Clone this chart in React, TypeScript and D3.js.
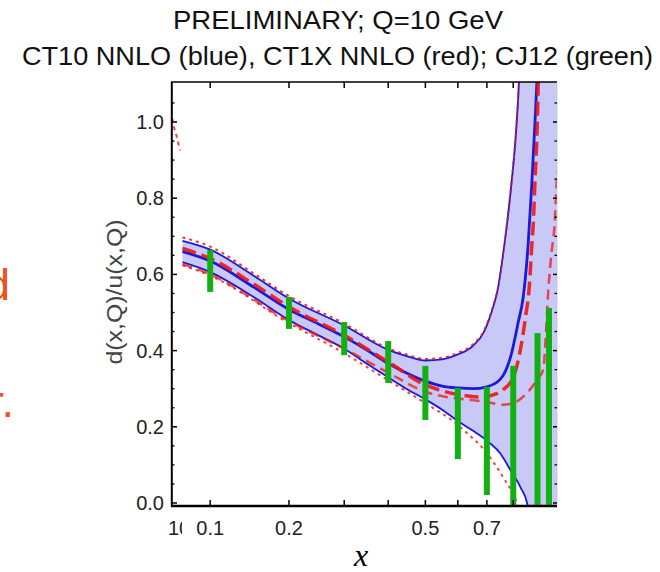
import React from 'react';
import * as d3 from 'd3';

// CT10 NNLO (blue) band
const ct10CentralX = [0.075, 0.1, 0.15, 0.2, 0.25, 0.3, 0.35, 0.4, 0.45, 0.5, 0.55, 0.6, 0.65, 0.7, 0.75, 0.79, 0.82, 0.84, 0.86, 0.875, 0.89, 0.9, 0.92];
const ct10Central = [0.66, 0.635, 0.566, 0.508, 0.47, 0.436, 0.401, 0.366, 0.34, 0.32, 0.307, 0.302, 0.3, 0.305, 0.325, 0.385, 0.475, 0.54, 0.675, 0.83, 1.01, 1.14, 1.5];
const ct10UpperX = [0.075, 0.1, 0.15, 0.2, 0.3, 0.4, 0.45, 0.5, 0.55, 0.6, 0.65, 0.69, 0.72, 0.74, 0.76, 0.79, 0.81, 0.823, 0.84, 0.86, 1.0];
const ct10Upper = [0.688, 0.665, 0.596, 0.537, 0.466, 0.402, 0.385, 0.374, 0.377, 0.39, 0.412, 0.45, 0.508, 0.56, 0.65, 0.82, 0.965, 1.11, 1.5, 2.5, 4.0];
const ct10LowerX = [0.075, 0.1, 0.15, 0.2, 0.25, 0.3, 0.35, 0.4, 0.45, 0.5, 0.55, 0.6, 0.65, 0.71, 0.75, 0.79, 0.83, 0.856, 0.87, 0.9, 1.0];
const ct10Lower = [0.632, 0.606, 0.54, 0.48, 0.44, 0.405, 0.365, 0.33, 0.298, 0.272, 0.245, 0.215, 0.19, 0.158, 0.13, 0.085, 0.04, 0.0, -0.05, -0.2, -0.6];

// CT1X NNLO (red)
const ct1xCentralX = [0.075, 0.1, 0.15, 0.2, 0.3, 0.4, 0.5, 0.6, 0.68, 0.72, 0.76, 0.8, 0.825, 0.85, 0.8655, 0.8756, 0.8825, 0.8897, 0.897, 0.9013, 0.91];
const ct1xCentral = [0.668, 0.642, 0.574, 0.515, 0.44, 0.37, 0.31, 0.285, 0.278, 0.283, 0.297, 0.33, 0.39, 0.49, 0.57, 0.675, 0.74, 0.855, 0.955, 1.055, 1.3];
const ct1xUpperX = [0.075, 0.1, 0.15, 0.2, 0.3, 0.4, 0.45, 0.5, 0.55, 0.6, 0.65, 0.69, 0.72, 0.74, 0.76, 0.79, 0.81, 0.823, 0.84];
const ct1xUpper = [0.697, 0.673, 0.602, 0.543, 0.471, 0.406, 0.389, 0.378, 0.381, 0.394, 0.416, 0.453, 0.51, 0.562, 0.652, 0.822, 0.967, 1.11, 1.5];
const ct1xLowerX = [0.075, 0.1, 0.2, 0.3, 0.4, 0.5, 0.6, 0.65, 0.7, 0.76, 0.8, 0.85, 0.9, 0.925, 0.935, 0.946, 0.96, 0.977, 0.986];
const ct1xLower = [0.627, 0.6, 0.477, 0.405, 0.342, 0.292, 0.274, 0.27, 0.265, 0.258, 0.262, 0.285, 0.325, 0.35, 0.43, 0.55, 0.65, 0.75, 0.87];
const ct1xDottedX = [0.075, 0.1, 0.2, 0.3, 0.4, 0.5, 0.6, 0.63, 0.7, 0.76, 0.815, 0.83];
const ct1xDotted = [0.624, 0.597, 0.472, 0.393, 0.322, 0.262, 0.205, 0.184, 0.131, 0.068, 0.0, -0.03];
const strayX = [0.066, 0.068, 0.0705, 0.073];
const stray = [1.03, 0.99, 0.96, 0.925];

// CJ12 (green) error bars
const cj12X = [0.1, 0.2, 0.3, 0.4, 0.5, 0.6, 0.7, 0.8, 0.9, 0.95];
const cj12Hi = [0.664, 0.541, 0.475, 0.425, 0.36, 0.302, 0.305, 0.36, 0.446, 0.512];
const cj12Lo = [0.554, 0.457, 0.388, 0.315, 0.218, 0.115, 0.021, -0.005, -0.005, -0.005];

// ticks
const yTickValues = [0, 0.2, 0.4, 0.6, 0.8, 1.0];
const yTickLabels = ['0.0', '0.2', '0.4', '0.6', '0.8', '1.0'];
const yMinorValues = [0.05, 0.1, 0.15, 0.25, 0.3, 0.35, 0.45, 0.5, 0.55, 0.65, 0.7, 0.75, 0.85, 0.9, 0.95, 1.05];
const xTickValues = [0.1, 0.2, 0.3, 0.4, 0.5, 0.6, 0.7, 0.8];
const xLabelValues = [0.1, 0.2, 0.5, 0.7];
const xLabelTexts = ['0.1', '0.2', '0.5', '0.7'];

const BLUE = '#1a1ad8';
const RED = '#ee1515';
const GREEN = '#12b012';
const FILL = '#c9c9f7';
const FONT = "'Liberation Sans', Arial, sans-serif";

export default function App() {
  const L = 171, R = 557, T = 82, B = 503;
  const x = d3.scalePow().exponent(1 / 3).domain([0.066, 0.986]).range([L, R]);
  const y = d3.scaleLinear().domain([0, 1.105]).range([B, T]);
  const line = d3.line<[number, number]>().x(d => x(d[0])).y(d => y(d[1])).curve(d3.curveMonotoneX);
  const pts = (xs: number[], vs: number[]) => xs.map((v, i) => [v, vs[i]] as [number, number]);

  const up = pts(ct10UpperX, ct10Upper);
  const lo = pts(ct10LowerX, ct10Lower);
  const fillPath = (line(up) || '') + (line(lo.slice().reverse()) || '').replace(/^M/, 'L') + 'Z';

  return (
    <svg width={660} height={572} style={{ position: 'absolute', left: 0, top: 0, background: '#fff' }}>
      <defs>
        <clipPath id="plot"><rect x={L} y={T} width={R - L} height={B - T + 2} /></clipPath>
        <clipPath id="lbl"><rect x={0} y={500} width={182} height={50} /></clipPath>
      </defs>
      <rect x={0} y={0} width={660} height={572} fill="#fff" />

      {/* titles */}
      <text x={173} y={29} fontFamily={FONT} fontSize={26} fill="#111" textLength={330} lengthAdjust="spacingAndGlyphs">PRELIMINARY; Q=10 GeV</text>
      <text x={22} y={65} fontFamily={FONT} fontSize={26} fill="#111" textLength={631} lengthAdjust="spacingAndGlyphs">CT10 NNLO (blue), CT1X NNLO (red); CJ12 (green)</text>

      {/* slide remnants (cut off at the left edge, as in the source) */}
      <text x={-15} y={300} fontFamily={FONT} fontSize={45} fill="#e8531e">d</text>
      <text x={-11} y={417} fontFamily={FONT} fontSize={45} fill="#e8531e">r.</text>

      <g clipPath="url(#plot)">
        <path d={fillPath} fill={FILL} stroke="none" />
        <path d={line(up) || ''} fill="none" stroke={BLUE} strokeWidth={1.8} />
        <path d={line(lo) || ''} fill="none" stroke={BLUE} strokeWidth={1.8} />
        <path d={line(pts(ct10CentralX, ct10Central)) || ''} fill="none" stroke={BLUE} strokeWidth={2.8} />
        <path d={line(pts(ct1xUpperX, ct1xUpper)) || ''} fill="none" stroke={RED} strokeWidth={2} strokeDasharray="3,4" opacity={0.85} />
        <path d={line(pts(ct1xDottedX, ct1xDotted)) || ''} fill="none" stroke={RED} strokeWidth={2} strokeDasharray="3,4" opacity={0.8} />
        <path d={line(pts(ct1xLowerX, ct1xLower)) || ''} fill="none" stroke={RED} strokeWidth={2.5} strokeDasharray="10,6" opacity={0.75} />
        <path d={line(pts(ct1xCentralX, ct1xCentral)) || ''} fill="none" stroke={RED} strokeWidth={3.5} strokeDasharray="14,6" opacity={0.9} />
        <path d={line(pts(strayX, stray)) || ''} fill="none" stroke={RED} strokeWidth={2} strokeDasharray="4,4" opacity={0.8} />
      </g>

      {/* CJ12 bars */}
      {cj12X.map((xv, i) => (
        <rect key={i} x={x(xv) - 3} y={y(cj12Hi[i])} width={6} height={y(cj12Lo[i]) - y(cj12Hi[i])} fill={GREEN} />
      ))}

      {/* frame */}
      <line x1={L} x2={R} y1={T} y2={T} stroke="#000" strokeWidth={1.5} />
      <line x1={R} x2={R} y1={T} y2={B + 3} stroke="#bbb" strokeWidth={0.6} />
      <line x1={L + 0.8} x2={L + 0.8} y1={T} y2={B + 4} stroke="#000" strokeWidth={2} />
      <line x1={L} x2={R} y1={B + 3} y2={B + 3} stroke="#000" strokeWidth={2.5} />

      {/* y ticks */}
      {yTickValues.map((v, i) => (
        <g key={'yt' + i}>
          <line x1={L} x2={L + 6} y1={y(v)} y2={y(v)} stroke="#000" strokeWidth={1.5} />
          <line x1={R} x2={R - 4} y1={y(v)} y2={y(v)} stroke="#000" strokeWidth={1.5} />
          <text x={164} y={y(v) + 7} textAnchor="end" fontFamily={FONT} fontSize={20} fill="#222">{yTickLabels[i]}</text>
        </g>
      ))}
      {yMinorValues.map((v, i) => (
        <g key={'ym' + i}>
          <line x1={L} x2={L + 3.5} y1={y(v)} y2={y(v)} stroke="#000" strokeWidth={1.3} />
          <line x1={R} x2={R - 2.5} y1={y(v)} y2={y(v)} stroke="#000" strokeWidth={1.3} />
        </g>
      ))}

      {/* x ticks */}
      {xTickValues.map((v, i) => (
        <g key={'xt' + i}>
          <line x1={x(v)} x2={x(v)} y1={B + 3} y2={B - 3} stroke="#000" strokeWidth={1.5} />
          <line x1={x(v)} x2={x(v)} y1={T} y2={T + 6} stroke="#000" strokeWidth={1.5} />
        </g>
      ))}
      {xLabelValues.map((v, i) => (
        <text key={'xl' + i} x={x(v)} y={535} textAnchor="middle" fontFamily={FONT} fontSize={20} fill="#222">{xLabelTexts[i]}</text>
      ))}
      <text x={168} y={535} fontFamily={FONT} fontSize={20} fill="#222" clipPath="url(#lbl)">10</text>

      {/* axis labels */}
      <text transform="translate(122,292) rotate(-90)" textAnchor="middle" fontFamily={FONT} fontSize={22} fill="#444" textLength={145} lengthAdjust="spacingAndGlyphs">d(x,Q)/u(x,Q)</text>
      <text x={361} y={566} textAnchor="middle" fontFamily="'Liberation Serif', 'Times New Roman', serif" fontStyle="italic" fontSize={32} fill="#000">x</text>
    </svg>
  );
}
